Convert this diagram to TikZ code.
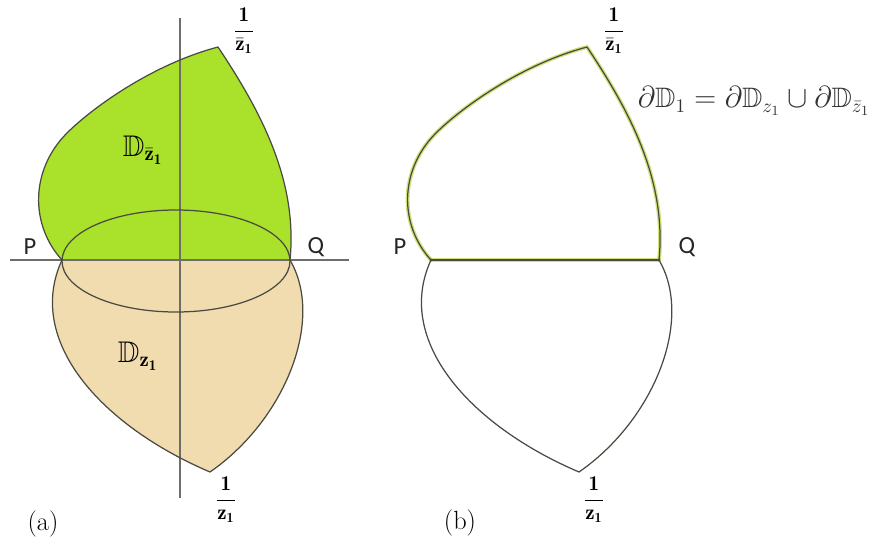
\documentclass[tikz,border=0pt]{standalone}
\usepackage{amsmath,amssymb}
\usepackage{fontspec}
\newfontfamily\carl{Carlito}
\definecolor{lobegreen}{HTML}{AAE12A}
\definecolor{lobetan}{HTML}{F0DCAF}
\definecolor{inkgray}{HTML}{4A4A42}
\definecolor{halo}{HTML}{D2E27A}
\tikzset{
  ulLeft/.style={insert path={(62,260) .. controls (30,225) and (30,170) .. (67,133) .. controls (90,110) and (150,65) .. (218,47)}},
  ulRight/.style={insert path={.. controls (260,110) and (298,180) .. (290,260)}},
  llLeft/.style={insert path={(62,260) .. controls (25,340) and (100,425) .. (210,472)}},
  llRight/.style={insert path={.. controls (285,420) and (325,320) .. (290,260)}},
  curve/.style={draw=inkgray, line width=0.7pt},
  haloline/.style={draw=halo, line width=2.2pt, line cap=round, line join=round},
  axisline/.style={draw=inkgray!80, line width=0.7pt},
  ptlabel/.style={font=\carl\fontsize{14}{16}\selectfont, text=black!85},
  fraclabel/.style={font=\fontsize{12}{14}\selectfont},
  dlabel/.style={font=\fontsize{17}{20}\selectfont},
  panellabel/.style={font=\fontsize{15}{18}\selectfont}
}
\begin{document}
\begin{tikzpicture}[x=0.02cm,y=-0.02cm]
\useasboundingbox[fill=white] (0,0) rectangle (876,549);
% ---------- panel (a) ----------
\coordinate (Pa) at (62,260);
\coordinate (Qa) at (290,260);
\coordinate (Ta) at (218,47);
\coordinate (Ba) at (210,472);
\fill[lobegreen] [ulLeft] [ulRight] -- cycle;
\fill[lobetan] [llLeft] [llRight] -- cycle;
\coordinate (hl) at (10,260);
\coordinate (hr) at (349,260);
\coordinate (vt) at (180,18);
\coordinate (vb) at (180,498);
\draw[axisline] (hl) -- (hr);
\draw[axisline] (vt) -- (vb);
\coordinate (ec) at (176,261);
\draw[curve] (ec) ellipse [x radius=114, y radius=51];
\draw[curve, line join=miter] [ulLeft] [ulRight];
\draw[curve, line join=miter] [llLeft] [llRight];
\node[ptlabel] (Plab) at (30,247) {P};
\node[ptlabel] (Qlab) at (316,247) {Q};
\node[fraclabel] (ta) at (244,31) {$\dfrac{\mathbf{1}}{\bar{\mathbf{z}}_{\mathbf{1}}}$};
\node[fraclabel] (ba) at (226,500) {$\dfrac{\mathbf{1}}{\mathbf{z}_{\mathbf{1}}}$};
\node[dlabel] (Dzb) at (143,150) {$\mathbb{D}_{\bar{\mathbf{z}}_{\mathbf{1}}}$};
\node[dlabel] (Dz) at (138,356) {$\mathbb{D}_{\mathbf{z}_{\mathbf{1}}}$};
\node[panellabel] (pa) at (43,524) {(a)};
% ---------- panel (b) ----------
\begin{scope}[xshift=369*0.02cm]
\coordinate (Pb) at (62,260);
\coordinate (Qb) at (290,260);
\draw[haloline] [ulLeft] [ulRight];
\draw[haloline] (Pb) -- (Qb);
\draw[curve, line join=miter] [ulLeft] [ulRight];
\draw[curve] (Pb) -- (Qb);
\draw[curve, line join=miter] [llLeft] [llRight];
\fill[inkgray] (Pb) circle (1.6);
\fill[inkgray] (Qb) circle (1.6);
\node[ptlabel] (Plb) at (31,247) {P};
\node[ptlabel] (Qlb) at (318,247) {Q};
\node[fraclabel] (tb) at (245,31) {$\dfrac{\mathbf{1}}{\bar{\mathbf{z}}_{\mathbf{1}}}$};
\node[fraclabel] (bb) at (225,500) {$\dfrac{\mathbf{1}}{\mathbf{z}_{\mathbf{1}}}$};
\node[panellabel] (pb) at (91,523) {(b)};
\end{scope}
\node[font=\fontsize{16}{19}\selectfont, text=black!80] (formula) at (754,101) {$\partial\mathbb{D}_1=\partial\mathbb{D}_{z_1}\cup\partial\mathbb{D}_{\bar z_1}$};
\end{tikzpicture}
\end{document}
